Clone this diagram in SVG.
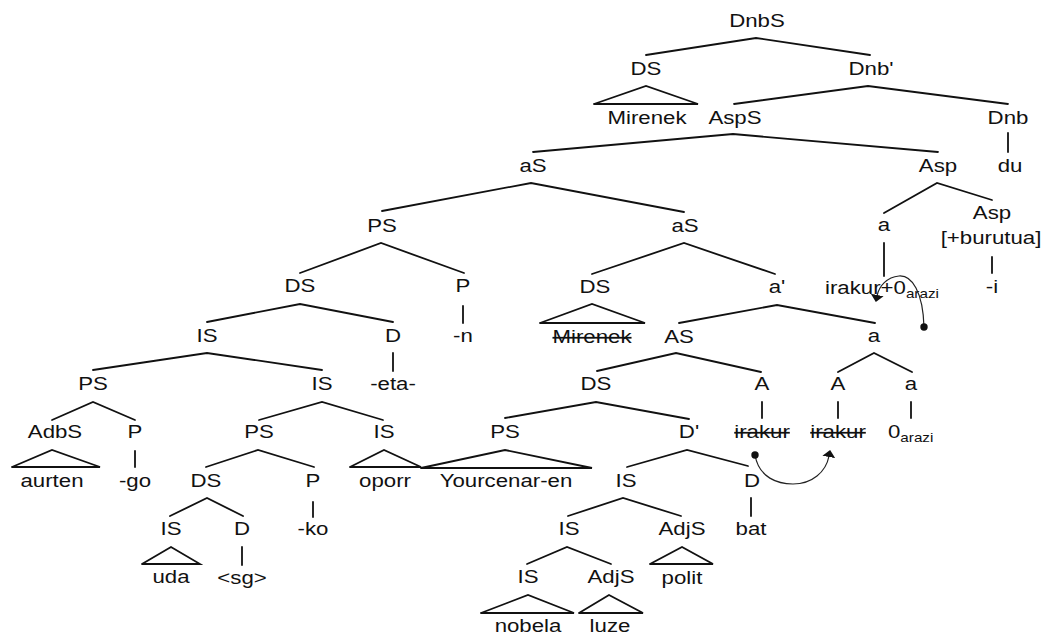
<svg xmlns="http://www.w3.org/2000/svg" width="1045" height="635" viewBox="0 0 1045 635">
<style>
text{font-family:"Liberation Sans",Arial,sans-serif;font-size:17.5px;fill:#111;text-anchor:middle}
text.s{text-anchor:start}
text.x{text-decoration:line-through}
tspan.sub{font-size:12px}
#edges line,#edges polyline{stroke:#111;stroke-width:1.8;fill:none;stroke-linecap:round}
#edges path.mv{stroke:#222;stroke-width:1.2;fill:none}
</style>
<defs>
<marker id="arr" viewBox="0 0 7 13" refX="1" refY="6.5" markerWidth="7" markerHeight="13" markerUnits="userSpaceOnUse" orient="auto"><path d="M0,0 L7,6.5 L0,13 z" fill="#111"/></marker>
<marker id="dot" viewBox="0 0 8 8" refX="4" refY="4" markerWidth="8" markerHeight="8" markerUnits="userSpaceOnUse"><circle cx="4" cy="4" r="3.7" fill="#111"/></marker>
</defs>
<rect width="1045" height="635" fill="#fff"/>
<g id="edges">
<polyline points="646,55 756,38 870,55"/>
<polyline points="594,104 646,86 698,104 594,104"/>
<polyline points="734,104 868,86 1008,104"/>
<line x1="1008" y1="133" x2="1008" y2="152"/>
<polyline points="533,152 733,134 938,152"/>
<polyline points="382,211 531,183 684,212"/>
<polyline points="884,213 937,183 992,200"/>
<line x1="884" y1="243" x2="884" y2="276"/>
<line x1="992" y1="257" x2="992" y2="273"/>
<polyline points="300,273 381,243 464,273"/>
<polyline points="592,274 684,243 775,274"/>
<line x1="463" y1="306" x2="463" y2="323"/>
<polyline points="207,322 300,304 393,322"/>
<polyline points="540,323 592,304 645,323 540,323"/>
<polyline points="679,323 777,305 875,323"/>
<line x1="393" y1="353" x2="393" y2="371"/>
<polyline points="93,370 207,353 322,370"/>
<polyline points="597,371 676,353 761,372"/>
<polyline points="838,372 874,353 912,372"/>
<polyline points="52,420 93,402 135,420"/>
<polyline points="259,420 322,402 383,420"/>
<polyline points="505,418 596,402 689,419"/>
<line x1="762" y1="402" x2="762" y2="418"/>
<line x1="838" y1="402" x2="838" y2="418"/>
<line x1="911" y1="402" x2="911" y2="418"/>
<polyline points="12,467 52,450 100,467 12,467"/>
<line x1="135" y1="451" x2="135" y2="467"/>
<polyline points="206,467 258,450 314,467"/>
<polyline points="350,467 384,450 421,467 350,467"/>
<polyline points="421,468 505,450 592,468 421,468"/>
<polyline points="627,467 687,450 748,466"/>
<polyline points="170,516 207,498 243,516"/>
<line x1="313" y1="502" x2="313" y2="517"/>
<polyline points="568,516 623,498 681,516"/>
<line x1="751" y1="498" x2="751" y2="516"/>
<polyline points="142,564 171,547 200,564 142,564"/>
<line x1="242" y1="547" x2="242" y2="565"/>
<polyline points="527,564 567,547 611,564"/>
<polyline points="650,564 682,547 713,564 650,564"/>
<polyline points="481,613 528,595 574,613 481,613"/>
<polyline points="579,613 609,595 643,613 579,613"/>
<path class="mv" d="M924,327 C923,292 912,275 899,276 C887,277 879,286 877,296" marker-start="url(#dot)" marker-end="url(#arr)"/>
<path class="mv" d="M755,455 C759,478 778,484 793,484 C812,484 826,472 829,456" marker-start="url(#dot)" marker-end="url(#arr)"/>
</g>
<g id="n1"><text transform="matrix(1.27 0 0 1 757 27)">DnbS</text></g>
<g id="n2"><text transform="matrix(1.27 0 0 1 646 75)">DS</text></g>
<g id="n3"><text transform="matrix(1.27 0 0 1 871 75)">Dnb'</text></g>
<g id="n4"><text transform="matrix(1.27 0 0 1 647 124)">Mirenek</text></g>
<g id="n5"><text transform="matrix(1.27 0 0 1 735 124)">AspS</text></g>
<g id="n6"><text transform="matrix(1.27 0 0 1 1008 124)">Dnb</text></g>
<g id="n7"><text transform="matrix(1.27 0 0 1 533 172)">aS</text></g>
<g id="n8"><text transform="matrix(1.27 0 0 1 938 172)">Asp</text></g>
<g id="n9"><text transform="matrix(1.27 0 0 1 1010 172)">du</text></g>
<g id="n10"><text transform="matrix(1.27 0 0 1 382 232)">PS</text></g>
<g id="n11"><text transform="matrix(1.27 0 0 1 685 232)">aS</text></g>
<g id="n12"><text transform="matrix(1.27 0 0 1 884 231)">a</text></g>
<g id="n13"><text transform="matrix(1.27 0 0 1 992 219)">Asp</text><text transform="matrix(1.27 0 0 1 991 244)">[+burutua]</text></g>
<g id="n15"><text transform="matrix(1.27 0 0 1 300 292)">DS</text></g>
<g id="n16"><text transform="matrix(1.27 0 0 1 463 292)">P</text></g>
<g id="n17"><text transform="matrix(1.27 0 0 1 595 293)">DS</text></g>
<g id="n18"><text transform="matrix(1.27 0 0 1 777 293)">a'</text></g>
<g id="n19"><text class="s" transform="matrix(1.27 0 0 1 825 294)">irakur+0<tspan class="sub" dy="4">arazi</tspan></text></g>
<g id="n20"><text transform="matrix(1.27 0 0 1 992 293)">-i</text></g>
<g id="n21"><text transform="matrix(1.27 0 0 1 207 342)">IS</text></g>
<g id="n22"><text transform="matrix(1.27 0 0 1 393 342)">D</text></g>
<g id="n23"><text transform="matrix(1.27 0 0 1 463 342)">-n</text></g>
<g id="n24"><text class="x" transform="matrix(1.27 0 0 1 592 343)">Mirenek</text></g>
<g id="n25"><text transform="matrix(1.27 0 0 1 679 343)">AS</text></g>
<g id="n26"><text transform="matrix(1.27 0 0 1 874 342)">a</text></g>
<g id="n27"><text transform="matrix(1.27 0 0 1 93 390)">PS</text></g>
<g id="n28"><text transform="matrix(1.27 0 0 1 322 390)">IS</text></g>
<g id="n29"><text transform="matrix(1.27 0 0 1 393 390)">-eta-</text></g>
<g id="n30"><text transform="matrix(1.27 0 0 1 596 390)">DS</text></g>
<g id="n31"><text transform="matrix(1.27 0 0 1 762 390)">A</text></g>
<g id="n32"><text transform="matrix(1.27 0 0 1 838 390)">A</text></g>
<g id="n33"><text transform="matrix(1.27 0 0 1 911 390)">a</text></g>
<g id="n34"><text transform="matrix(1.27 0 0 1 55 438)">AdbS</text></g>
<g id="n35"><text transform="matrix(1.27 0 0 1 135 438)">P</text></g>
<g id="n36"><text transform="matrix(1.27 0 0 1 259 438)">PS</text></g>
<g id="n37"><text transform="matrix(1.27 0 0 1 384 438)">IS</text></g>
<g id="n38"><text transform="matrix(1.27 0 0 1 505 438)">PS</text></g>
<g id="n39"><text transform="matrix(1.27 0 0 1 689 438)">D'</text></g>
<g id="n40"><text class="x" transform="matrix(1.27 0 0 1 762 438)">irakur</text></g>
<g id="n41"><text class="x" transform="matrix(1.27 0 0 1 838 438)">irakur</text></g>
<g id="n42"><text class="s" transform="matrix(1.27 0 0 1 888 438)">0<tspan class="sub" dy="4">arazi</tspan></text></g>
<g id="n43"><text transform="matrix(1.27 0 0 1 52 487)">aurten</text></g>
<g id="n44"><text transform="matrix(1.27 0 0 1 135 487)">-go</text></g>
<g id="n45"><text transform="matrix(1.27 0 0 1 206 487)">DS</text></g>
<g id="n46"><text transform="matrix(1.27 0 0 1 313 487)">P</text></g>
<g id="n47"><text transform="matrix(1.27 0 0 1 385 487)">oporr</text></g>
<g id="n48"><text transform="matrix(1.27 0 0 1 506 487)">Yourcenar-en</text></g>
<g id="n49"><text transform="matrix(1.27 0 0 1 626 487)">IS</text></g>
<g id="n50"><text transform="matrix(1.27 0 0 1 752 487)">D</text></g>
<g id="n51"><text transform="matrix(1.27 0 0 1 171 535)">IS</text></g>
<g id="n52"><text transform="matrix(1.27 0 0 1 242 535)">D</text></g>
<g id="n53"><text transform="matrix(1.27 0 0 1 313 535)">-ko</text></g>
<g id="n54"><text transform="matrix(1.27 0 0 1 569 535)">IS</text></g>
<g id="n55"><text transform="matrix(1.27 0 0 1 682 535)">AdjS</text></g>
<g id="n56"><text transform="matrix(1.27 0 0 1 751 535)">bat</text></g>
<g id="n57"><text transform="matrix(1.27 0 0 1 171 583)">uda</text></g>
<g id="n58"><text transform="matrix(1.27 0 0 1 242 584)">&lt;sg&gt;</text></g>
<g id="n59"><text transform="matrix(1.27 0 0 1 528 583)">IS</text></g>
<g id="n60"><text transform="matrix(1.27 0 0 1 611 583)">AdjS</text></g>
<g id="n61"><text transform="matrix(1.27 0 0 1 682 584)">polit</text></g>
<g id="n62"><text transform="matrix(1.27 0 0 1 528 632)">nobela</text></g>
<g id="n63"><text transform="matrix(1.27 0 0 1 610 632)">luze</text></g>
</svg>
